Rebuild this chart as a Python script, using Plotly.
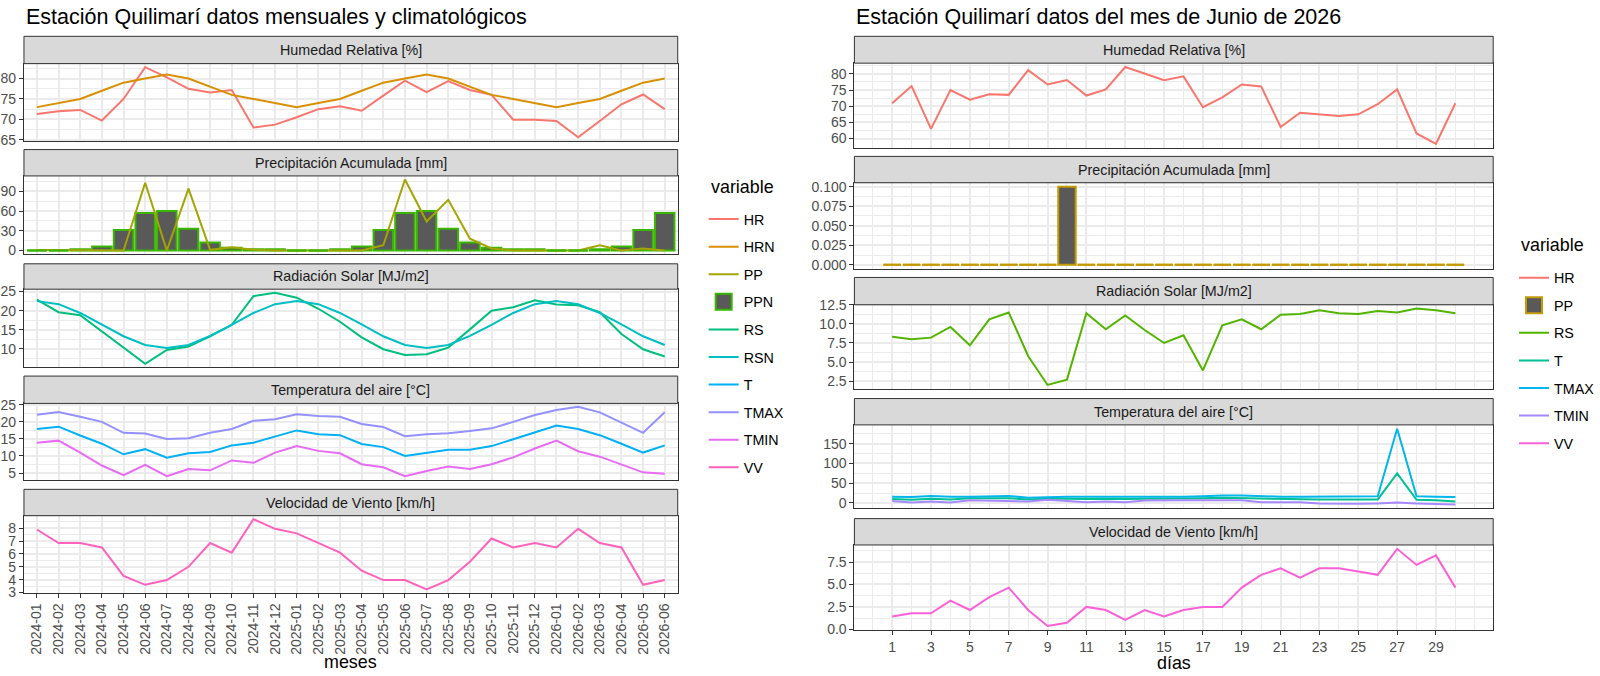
import plotly.graph_objects as go

W, H = 1600, 676
FONT = "Liberation Sans, Arial, Helvetica, sans-serif"

# ---------------- data: monthly (left) ----------------
meses = ["2024-01", "2024-02", "2024-03", "2024-04", "2024-05", "2024-06",
         "2024-07", "2024-08", "2024-09", "2024-10", "2024-11", "2024-12",
         "2025-01", "2025-02", "2025-03", "2025-04", "2025-05", "2025-06",
         "2025-07", "2025-08", "2025-09", "2025-10", "2025-11", "2025-12",
         "2026-01", "2026-02", "2026-03", "2026-04", "2026-05", "2026-06"]
HR_m = [71.3, 72.0, 72.3, 69.7, 75.0, 82.8, 80.3, 77.5, 76.6, 77.2, 68.0, 68.7,
        70.5, 72.5, 73.2, 72.1, 75.8, 79.5, 76.7, 79.4, 77.2, 76.0, 69.9, 69.9,
        69.6, 65.6, 69.6, 73.7, 76.1, 72.5]
HRN_m = [73, 74, 75, 77, 79, 80, 81, 80, 78, 76, 75, 74,
         73, 74, 75, 77, 79, 80, 81, 80, 78, 76, 75, 74,
         73, 74, 75, 77, 79, 80]
PP_m = [0.8, 0.8, 0, 0, 0, 103, 0, 94, 1, 5, 1, 0,
        0, 0, 0, 0, 8, 108, 44, 77, 18, 3, 0, 0,
        0, 0, 8, 0, 3, 0]
PPN_m = [0, 0, 2, 6, 31, 57, 60, 33, 12, 4, 2, 2,
         0, 0, 2, 6, 31, 57, 60, 33, 12, 4, 2, 2,
         0, 0, 2, 6, 31, 57]
RS_m = [22.9, 19.6, 18.8, 14.5, 10.3, 6.1, 9.7, 10.6, 13.3, 16.3, 23.8, 24.7,
        23.4, 20.5, 17.1, 13.0, 9.9, 8.4, 8.6, 10.3, 15.1, 20.0, 20.9, 22.7,
        21.6, 21.4, 19.6, 13.9, 9.9, 8.0]
RSN_m = [22.5, 21.7, 19.4, 16.4, 13.3, 11.0, 10.2, 11.0, 13.4, 16.3, 19.4, 21.7,
         22.5, 21.7, 19.4, 16.4, 13.3, 11.0, 10.2, 11.0, 13.4, 16.3, 19.4, 21.7,
         22.5, 21.7, 19.4, 16.4, 13.3, 11.0]
T_m = [17.9, 18.6, 16.0, 13.6, 10.5, 12.0, 9.5, 10.8, 11.2, 13.1, 13.9, 15.8,
       17.5, 16.4, 16.1, 13.5, 12.6, 10.0, 10.9, 11.8, 11.8, 12.9, 14.9, 17.0,
       18.9, 17.9, 16.1, 13.6, 11.0, 13.1]
TMAX_m = [22.1, 22.9, 21.5, 20.0, 16.8, 16.6, 15.0, 15.2, 16.8, 17.9, 20.3, 20.8,
          22.2, 21.7, 21.5, 19.4, 18.5, 15.8, 16.4, 16.7, 17.3, 18.1, 20.0, 22.0,
          23.5, 24.4, 22.8, 19.9, 16.8, 22.8]
TMIN_m = [13.9, 14.5, 11.0, 7.2, 4.4, 7.4, 4.1, 6.2, 5.8, 8.7, 8.0, 11.0,
          12.9, 11.5, 10.8, 7.6, 6.7, 4.1, 5.6, 6.9, 6.2, 7.6, 9.6, 12.2,
          14.5, 11.4, 9.8, 7.4, 5.2, 4.8]
VV_m = [7.9, 6.85, 6.85, 6.5, 4.3, 3.6, 3.97, 5.0, 6.85, 6.1, 8.7, 7.95,
        7.6, 6.85, 6.1, 4.7, 3.97, 3.97, 3.25, 3.97, 5.4, 7.2, 6.5, 6.85,
        6.5, 7.95, 6.85, 6.5, 3.6, 3.97]

# ---------------- data: daily (right) ----------------
dias = list(range(1, 31))
HR_d = [70.9, 76.2, 63.0, 75.0, 72.0, 73.7, 73.5, 81.1, 76.7, 78.1, 73.3, 75.2,
        82.1, 80.0, 78.0, 79.2, 69.7, 72.7, 76.7, 76.1, 63.6, 68.0, 67.4, 67.0,
        67.5, 70.6, 75.2, 61.6, 58.4, 70.9]
PP_d = [0, 0, 0, 0, 0, 0, 0, 0, 0, 0.1, 0, 0, 0, 0, 0, 0, 0, 0, 0, 0,
        0, 0, 0, 0, 0, 0, 0, 0, 0, 0]
RS_d = [8.3, 8.0, 8.2, 9.6, 7.2, 10.6, 11.5, 5.8, 2.0, 2.7, 11.4, 9.3,
        11.1, 9.2, 7.5, 8.5, 3.9, 9.8, 10.6, 9.3, 11.2, 11.3, 11.8, 11.4,
        11.3, 11.7, 11.5, 12.0, 11.8, 11.4]
T_d = [10, 8, 11, 9, 12, 12, 12, 9, 11, 11, 10, 11, 10, 11, 11,
       11, 12, 13, 12, 11, 10, 9, 9, 9, 9, 9, 75, 8, 7, 4]
TMAX_d = [16, 15, 18, 16, 16, 17, 18, 13, 15, 16, 16, 16, 15, 15, 16,
          16, 17, 19, 19, 17, 16, 16, 16, 17, 17, 17, 188, 17, 16, 15]
TMIN_d = [5, 1, 4, 1, 7, 6, 5, 4, 8, 5, 2, 4, 2, 6, 7,
          7, 7, 7, 7, 2, 2, 2, -1, -2, -2, -1, 1, -1, -2, -4]
VV_d = [1.43, 1.8, 1.8, 3.2, 2.16, 3.6, 4.65, 2.16, 0.37, 0.73, 2.5, 2.16,
        1.06, 2.16, 1.43, 2.16, 2.5, 2.5, 4.65, 6.08, 6.8, 5.75, 6.8, 6.8,
        6.45, 6.08, 8.97, 7.18, 8.24, 4.65]

# ---------------- text ----------------
title_left = "Estación Quilimarí datos mensuales y climatológicos"
title_right = "Estación Quilimarí datos del mes de Junio de 2026"
strip_titles = ["Humedad Relativa [%]", "Precipitación Acumulada [mm]",
                "Radiación Solar [MJ/m2]", "Temperatura del aire [°C]",
                "Velocidad de Viento [km/h]"]

# ggplot hue palettes
CL = {"HR": "#F8766D", "HRN": "#D89000", "PP": "#A3A500", "PPN": "#39B600",
      "RS": "#00BF7D", "RSN": "#00BFC4", "T": "#00B0F6", "TMAX": "#9590FF",
      "TMIN": "#E76BF3", "VV": "#FF62BC"}
CR = {"HR": "#F8766D", "PP": "#C49A00", "RS": "#53B400", "T": "#00C094",
      "TMAX": "#00B6EB", "TMIN": "#A58AFF", "VV": "#FB61D7"}
BAR_FILL = "#595959"

# ---------------- geometry (pixels) ----------------
L_X = (24, 679)
R_X = (856, 1496)
L_PANELS = [(57, 136), (172, 252), (288, 368), (405, 483), (520, 599)]
L_STRIPS = [(29, 57), (145, 172), (262, 288), (377, 405), (493, 520)]
R_PANELS = [(56.5, 143), (179, 267), (304, 390), (427, 512.5), (550, 637)]
R_STRIPS = [(29, 56.5), (152, 179), (276, 304), (400, 427), (523, 550)]


def xdom(a, b):
    return [a / W, b / W]


def ydom(top, bottom):
    return [1 - bottom / H, 1 - top / H]


def expand(vals, mult=0.05):
    lo, hi = min(vals), max(vals)
    d = hi - lo
    return [lo - d * mult, hi + d * mult]


def minors(majors, rng):
    step = majors[1] - majors[0]
    cands = [majors[0] - step / 2 + k * step for k in range(len(majors) + 1)]
    return [c for c in cands if rng[0] <= c <= rng[1]]


GRID = "#EBEBEB"
BORDER = "#333333"
TICKC = "#4D4D4D"
TICKSIZE = 14

fig = go.Figure()
layout = {}

idx = list(range(1, len(meses) + 1))
lx_range = [1 - 0.6, len(meses) + 0.6]
rx_range = expand([dias[0] - 0.45, dias[-1] + 0.45])


def add_line(x, y, name, color, ax, legend, group):
    fig.add_trace(go.Scatter(
        x=x, y=y, mode="lines", name=name, line=dict(color=color, width=2),
        xaxis="x" + ax, yaxis="y" + ax, legend=legend, legendgroup=group,
        hoverinfo="skip"))


def add_bars(x, y, name, outline, ax, legend, group):
    fig.add_trace(go.Bar(
        x=x, y=y, name=name, width=0.9, showlegend=False,
        marker=dict(color=BAR_FILL, line=dict(color=outline, width=2)),
        xaxis="x" + ax, yaxis="y" + ax, legend=legend, legendgroup=group,
        hoverinfo="skip"))
    # legend key: filled square (larger than plotly's default bar key)
    fig.add_trace(go.Scatter(
        x=[None], y=[None], mode="markers", name=name,
        marker=dict(symbol="square", size=16, color=BAR_FILL,
                    line=dict(color=outline, width=2)),
        xaxis="x" + ax, yaxis="y" + ax, legend=legend, legendgroup=group,
        hoverinfo="skip"))
    # zero-height bars are drawn as flat outlines (as ggplot does)
    xs, ys = [], []
    for xi, yi in zip(x, y):
        if yi == 0:
            xs += [xi - 0.45, xi + 0.45, None]
            ys += [yi, yi, None]
    if xs:
        fig.add_trace(go.Scatter(
            x=xs, y=ys, mode="lines", line=dict(color=outline, width=2),
            xaxis="x" + ax, yaxis="y" + ax, legend=legend, legendgroup=group,
            showlegend=False, hoverinfo="skip"))


# ---- left traces (legend order) ----
add_line(idx, HR_m, "HR", CL["HR"], "", "legend", "L_HR")
add_line(idx, HRN_m, "HRN", CL["HRN"], "", "legend", "L_HRN")
add_line(idx, PP_m, "PP", CL["PP"], "2", "legend", "L_PP")
add_bars(idx, PPN_m, "PPN", CL["PPN"], "2", "legend", "L_PPN")
add_line(idx, RS_m, "RS", CL["RS"], "3", "legend", "L_RS")
add_line(idx, RSN_m, "RSN", CL["RSN"], "3", "legend", "L_RSN")
add_line(idx, T_m, "T", CL["T"], "4", "legend", "L_T")
add_line(idx, TMAX_m, "TMAX", CL["TMAX"], "4", "legend", "L_TMAX")
add_line(idx, TMIN_m, "TMIN", CL["TMIN"], "4", "legend", "L_TMIN")
add_line(idx, VV_m, "VV", CL["VV"], "5", "legend", "L_VV")

# ---- right traces ----
add_line(dias, HR_d, "HR", CR["HR"], "6", "legend2", "R_HR")
add_bars(dias, PP_d, "PP", CR["PP"], "7", "legend2", "R_PP")
add_line(dias, RS_d, "RS", CR["RS"], "8", "legend2", "R_RS")
add_line(dias, T_d, "T", CR["T"], "9", "legend2", "R_T")
add_line(dias, TMAX_d, "TMAX", CR["TMAX"], "9", "legend2", "R_TMAX")
add_line(dias, TMIN_d, "TMIN", CR["TMIN"], "9", "legend2", "R_TMIN")
add_line(dias, VV_d, "VV", CR["VV"], "10", "legend2", "R_VV")

# ---- y axis specs ----
left_y = [
    (expand(HR_m + HRN_m), [65, 70, 75, 80], None),
    (expand(PP_m + PPN_m + [0]), [0, 30, 60, 90], None),
    (expand(RS_m + RSN_m), [10, 15, 20, 25], None),
    (expand(T_m + TMAX_m + TMIN_m), [5, 10, 15, 20, 25], None),
    (expand(VV_m), [3, 4, 5, 6, 7, 8], None),
]
right_y = [
    (expand(HR_d), [60, 65, 70, 75, 80], None),
    (expand(PP_d + [0]), [0, 0.025, 0.05, 0.075, 0.1], ".3f"),
    (expand(RS_d), [2.5, 5.0, 7.5, 10.0, 12.5], ".1f"),
    (expand(T_d + TMAX_d + TMIN_d), [0, 50, 100, 150], None),
    (expand(VV_d), [0, 2.5, 5.0, 7.5], ".1f"),
]


def yaxis(dom, rng, ticks, fmt, anchor):
    d = dict(domain=dom, range=rng, anchor=anchor, tickmode="array",
             tickvals=ticks, showgrid=True, gridcolor=GRID, gridwidth=2,
             minor=dict(tickmode="array", tickvals=minors(ticks, rng),
                        showgrid=True, gridcolor=GRID, gridwidth=1, ticks=""),
             ticks="outside", ticklen=4, tickwidth=1, tickcolor=BORDER,
             showline=True, mirror=True, linecolor=BORDER, linewidth=1,
             zeroline=False, fixedrange=True,
             tickfont=dict(size=TICKSIZE, color=TICKC, family=FONT))
    if fmt:
        d["tickformat"] = fmt
    return d


def xaxis(dom, rng, tickvals, ticktext, bottom, anchor, minor_vals=None,
          angle=None):
    d = dict(domain=dom, range=rng, anchor=anchor, tickmode="array",
             tickvals=tickvals, showgrid=True, gridcolor=GRID, gridwidth=2,
             showline=True, mirror=True, linecolor=BORDER, linewidth=1,
             zeroline=False, fixedrange=True,
             showticklabels=bottom, ticks="outside" if bottom else "",
             ticklen=4, tickwidth=1, tickcolor=BORDER,
             tickfont=dict(size=TICKSIZE, color=TICKC, family=FONT))
    if ticktext is not None:
        d["ticktext"] = ticktext
    if minor_vals is not None:
        d["minor"] = dict(tickmode="array", tickvals=minor_vals,
                          showgrid=True, gridcolor=GRID, gridwidth=1, ticks="")
    if angle is not None:
        d["tickangle"] = angle
    return d


odd_days = [d for d in dias if d % 2 == 1]
even_days = [d for d in range(0, 32) if d % 2 == 0 and rx_range[0] <= d <= rx_range[1]] + [31]

for i in range(5):
    n = i + 1
    kx = "xaxis" if n == 1 else f"xaxis{n}"
    ky = "yaxis" if n == 1 else f"yaxis{n}"
    an_x = "x" if n == 1 else f"x{n}"
    an_y = "y" if n == 1 else f"y{n}"
    layout[kx] = xaxis(xdom(*L_X), lx_range, idx, meses, i == 4, an_y,
                       angle=-90)
    rng, ticks, fmt = left_y[i]
    layout[ky] = yaxis(ydom(*L_PANELS[i]), rng, ticks, fmt, an_x)

for i in range(5):
    n = i + 6
    layout[f"xaxis{n}"] = xaxis(xdom(*R_X), rx_range, odd_days, None, i == 4,
                                f"y{n}", minor_vals=even_days)
    rng, ticks, fmt = right_y[i]
    layout[f"yaxis{n}"] = yaxis(ydom(*R_PANELS[i]), rng, ticks, fmt, f"x{n}")

# ---- strips ----
shapes = []
annotations = []
for (xa, xb), strips in ((L_X, L_STRIPS), (R_X, R_STRIPS)):
    for (top, bot), txt in zip(strips, strip_titles):
        shapes.append(dict(type="rect", xref="paper", yref="paper",
                           x0=xa / W, x1=xb / W, y0=1 - bot / H, y1=1 - top / H,
                           fillcolor="#D9D9D9", line=dict(color=BORDER, width=1),
                           layer="above"))
        annotations.append(dict(text=txt, xref="paper", yref="paper",
                                x=(xa + xb) / 2 / W, y=1 - (top + bot) / 2 / H,
                                xanchor="center", yanchor="middle", showarrow=False,
                                font=dict(size=14.3, color="#1A1A1A", family=FONT)))


def text_at(txt, px, py, size, xanchor="left"):
    annotations.append(dict(text=txt, xref="paper", yref="paper",
                            x=px / W, y=1 - py / H, xanchor=xanchor,
                            yanchor="middle", showarrow=False,
                            font=dict(size=size, color="black", family=FONT)))


# ---- titles ----
text_at(title_left, L_X[0], 9, 21.5)
text_at(title_right, R_X[0], 9, 21.5)
text_at("meses", (L_X[0] + L_X[1]) / 2, 670, 17.9, "center")
text_at("días", (R_X[0] + R_X[1]) / 2, 671, 17.9, "center")
# legend titles
text_at("variable", 710, 183, 17.9)
text_at("variable", 1522, 243, 17.9)

leg_common = dict(xanchor="left", yanchor="top", traceorder="grouped",
                  tracegroupgap=6, bgcolor="rgba(0,0,0,0)", borderwidth=0,
                  font=dict(size=14.3, color="black", family=FONT),
                  itemclick=False, itemdoubleclick=False)

fig.update_layout(
    width=W, height=H,
    margin=dict(l=0, r=0, t=0, b=0),
    paper_bgcolor="white", plot_bgcolor="white",
    font=dict(family=FONT, color="black"),
    shapes=shapes, annotations=annotations,
    barmode="overlay",
    legend=dict(x=705 / W, y=1 - 200 / H, **leg_common),
    legend2=dict(x=1517 / W, y=1 - 260 / H, **leg_common),
    **layout,
)

fig.write_html(
    "out.html",
    config={"displayModeBar": False},
    post_script="document.body.style.margin='0';"
                "document.body.style.overflow='hidden';",
)
